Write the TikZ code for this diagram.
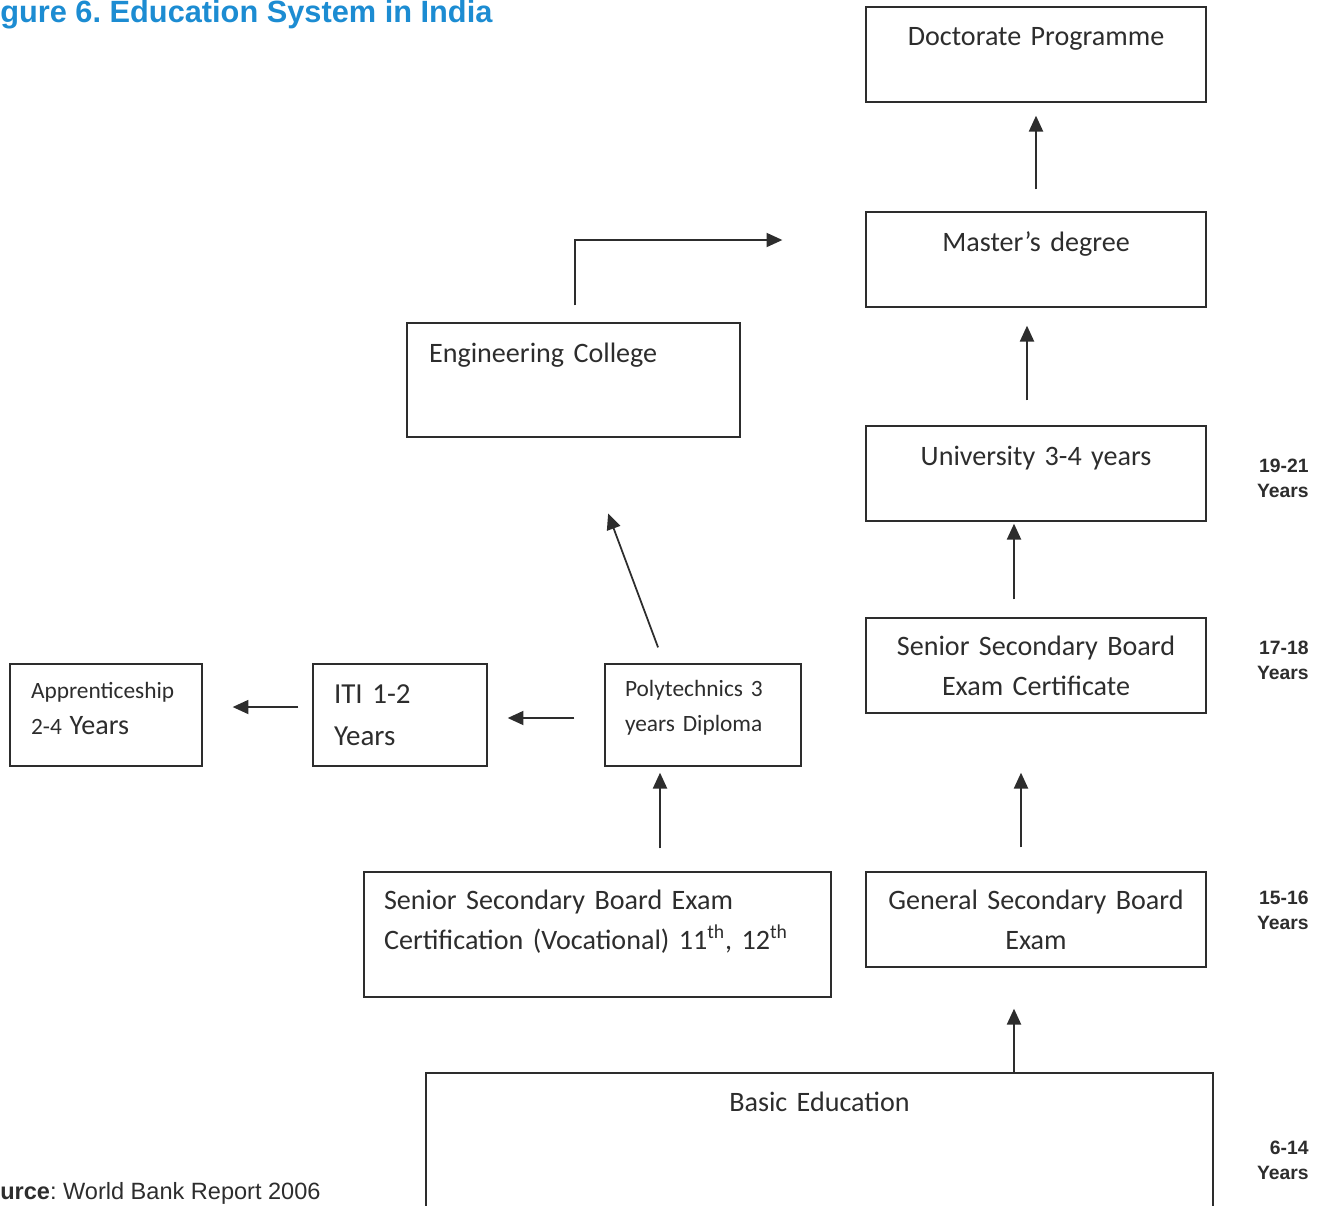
\documentclass[tikz,border=0pt]{standalone}
\usepackage{fontspec}
\setmainfont{Carlito}[WordSpace=0.7]
\newfontfamily\arialfont{Liberation Sans}
\usetikzlibrary{arrows.meta}
\frenchspacing
\definecolor{titleblue}{RGB}{28,140,210}
\definecolor{ink}{RGB}{45,45,45}
\newcommand{\bxfont}{\fontsize{16}{22.7}\selectfont}
\newcommand{\smfont}{\fontsize{13.3}{20}\selectfont}
\newcommand{\lowpad}[1]{\rule[-#1]{0pt}{#1}}

\tikzstyle{box} = [draw=ink, line width=0.8pt, inner ysep=0pt, inner xsep=0.4cm, text=ink, font=\bxfont]
\tikzstyle{mid} = [box, align=center, text width=6cm, minimum height=1.9cm]
\tikzstyle{lft} = [box, align=left]
\tikzstyle{arr} = [-{Triangle[length=9pt,width=8pt]}, line width=1pt, draw=ink]
\tikzstyle{age} = [font=\arialfont\bfseries\fontsize{11}{14.2}\selectfont, align=right, anchor=east, text=ink, inner sep=0pt]

\begin{document}
\begin{tikzpicture}[x=0.02cm, y=-0.02cm]
\useasboundingbox (0,0) rectangle (1322,1205);
\clip (0,0) rectangle (1322,1205);
%title
\node[anchor=base west, inner sep=0pt, text=titleblue, font=\arialfont\bfseries\fontsize{17.5}{20}\selectfont] (title) at (0,22) {gure 6. Education System in India};
%begin right column
\node[mid] (doct) at (1036,54.5) {Doctorate Programme\lowpad{0.72cm}};
\node[mid] (mast) at (1036,259.5) {Master's degree\lowpad{0.72cm}};
\node[mid] (univ) at (1036,473.5) {University 3-4 years\lowpad{0.72cm}};
\node[mid] (sscert) at (1036,665.5) {Senior Secondary Board\\Exam Certificate};
\node[mid] (gen) at (1036,919.5) {General Secondary Board\\Exam};
%end right column
%begin vocational side
\node[lft, inner xsep=0.44cm, text width=5.78cm, minimum height=2.28cm] (engg) at (573.5,380) {Engineering College\lowpad{1.1cm}};
\node[lft, inner xsep=0.42cm, text width=3cm, minimum height=2.04cm, font=\smfont] (appr) at (106,715) {Apprenticeship\\[0.6pt]2-4 {\bxfont Years}\lowpad{0.26cm}};
\node[lft, inner xsep=0.42cm, text width=2.64cm, minimum height=2.04cm, font=\fontsize{16.5}{23.8}\selectfont] (iti) at (400,715) {ITI 1-2\\Years};
\node[lft, inner xsep=0.4cm, text width=3.12cm, minimum height=2.04cm, font=\smfont] (poly) at (703,715) {Polytechnics 3\\years Diploma\lowpad{0.36cm}};
\node[lft, inner xsep=0.4cm, text width=8.54cm, minimum height=2.5cm] (voc) at (597.5,934.5) {Senior Secondary Board Exam\\Certification (Vocational) 11\textsuperscript{th}, 12\textsuperscript{th}\lowpad{0.6cm}};
%end vocational side
%wortel
\node[mid, text width=14.94cm, minimum height=3.2cm] (basic) at (819.5,1153) {Basic Education\lowpad{2.04cm}};
%begin arrows
\draw[arr, shorten <=0.44cm, shorten >=0.26cm] (mast.north) -- (doct.south);
\draw[arr, shorten <=0.5cm, shorten >=0.36cm] ([xshift=-0.18cm]univ.north) -- ([xshift=-0.18cm]mast.south);
\draw[arr, shorten <=0.36cm, shorten >=0.04cm] ([xshift=-0.44cm]sscert.north) -- ([xshift=-0.44cm]univ.south);
\draw[arr, shorten <=0.48cm, shorten >=1.18cm] ([xshift=-0.3cm]gen.north) -- ([xshift=-0.3cm]sscert.south);
\draw[arr, shorten >=0.82cm] ([xshift=-0.44cm]gen.south |- basic.north) -- ([xshift=-0.44cm]gen.south);
\draw[arr, shorten <=0.46cm, shorten >=0.12cm] ([xshift=-0.86cm]poly.south |- voc.north) -- ([xshift=-0.86cm]poly.south);
\draw[arr, shorten <=0.6cm, shorten >=0.4cm] ([yshift=-0.06cm]poly.west) -- ([yshift=-0.06cm]iti.east);
\draw[arr, shorten <=0.28cm, shorten >=0.6cm] ([yshift=0.16cm]iti.west) -- ([yshift=0.16cm]appr.east);
\draw[arr, shorten <=0.34cm, shorten >=1.62cm] ([xshift=-0.78cm]poly.north) -- ([xshift=0.126cm]engg.south);
\draw[arr, shorten <=0.34cm] ([xshift=0.03cm]engg.north) |- ([xshift=-1.66cm, yshift=0.39cm]mast.west);
%end arrows
%begin ages
\node[age] (a1921) at (1309,478.5) {19-21\\Years};
\node[age] (a1718) at (1309,660.5) {17-18\\Years};
\node[age] (a1516) at (1309,910) {15-16\\Years};
\node[age] (a614) at (1309,1160) {6-14\\Years};
%end ages
%source
\node[anchor=base west, inner sep=0pt, text=ink, font=\arialfont\fontsize{13.4}{16}\selectfont] (src) at (0,1199) {\textbf{urce}: World Bank Report 2006};
\end{tikzpicture}
\end{document}
